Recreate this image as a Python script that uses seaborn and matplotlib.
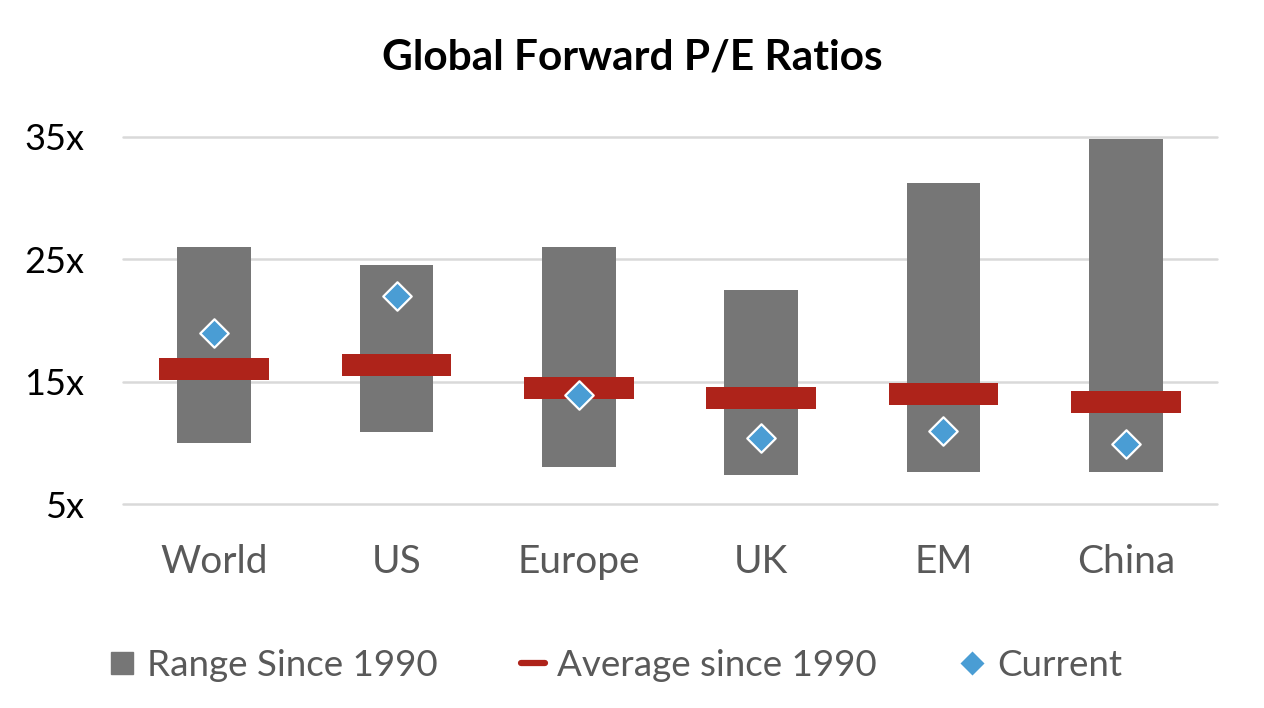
import matplotlib
matplotlib.use("Agg")
import matplotlib.pyplot as plt
from matplotlib.lines import Line2D
import pandas as pd
import seaborn as sb

# Chart data
REGIONS = ["World", "US", "Europe", "UK", "EM", "China"]
RANGE_LOW = [10.0, 10.9, 8.0, 7.4, 7.6, 7.6]
RANGE_HIGH = [26.0, 24.5, 26.0, 22.5, 31.2, 34.8]
AVERAGE = [16.0, 16.4, 14.5, 13.7, 14.0, 13.3]
CURRENT = [19.0, 22.0, 13.9, 10.4, 11.0, 9.9]
Y_TICKS = [5, 15, 25, 35]
Y_TICK_LABELS = ["5x", "15x", "25x", "35x"]
SERIES_NAMES = ["Range Since 1990", "Average since 1990", "Current"]
TITLE = "Global Forward P/E Ratios"

GRAY = "#767676"
RED = "#AE231A"
BLUE = "#4A9DD4"
TEXT_GRAY = "#595959"
AVG_THICKNESS = 1.8


def build_frame():
    df = pd.DataFrame({"Region": REGIONS, "low": RANGE_LOW, "high": RANGE_HIGH,
                       "avg": AVERAGE, "current": CURRENT})
    df["span"] = df["high"] - df["low"]
    df["avg_bottom"] = df["avg"] - AVG_THICKNESS / 2
    df["avg_height"] = AVG_THICKNESS
    return df


def plot_ratios(df):
    sb.set_theme(style="white")
    matplotlib.rcParams['font.family'] = ['Lato', 'DejaVu Sans']

    fig = plt.figure(figsize=(12.64, 7.08), dpi=100)
    ax = fig.add_axes([123 / 1264, 1 - 504 / 708, (1217 - 123) / 1264, (504 - 137) / 708])

    # Floating range bars
    sb.barplot(data=df, x="Region", y="span", bottom=df["low"].to_numpy(), color=GRAY,
               saturation=1, width=0.405, errorbar=None, ax=ax, zorder=2, linewidth=0)
    # Average markers as thin wide bars
    sb.barplot(data=df, x="Region", y="avg_height", bottom=df["avg_bottom"].to_numpy(), color=RED,
               saturation=1, width=0.60, errorbar=None, ax=ax, zorder=3, linewidth=0)
    # Current value diamonds
    sb.scatterplot(data=df, x="Region", y="current", marker="D", s=210, color=BLUE,
                   edgecolor="white", linewidth=1.6, ax=ax, zorder=4, legend=False)

    ax.set_xlim(-0.5, len(REGIONS) - 0.5)
    ax.set_ylim(5, 35)
    ax.set_yticks(Y_TICKS)
    ax.set_yticklabels(Y_TICK_LABELS)
    ax.set_xlabel("")
    ax.set_ylabel("")
    ax.set_axisbelow(True)
    ax.yaxis.grid(True, color="#D9D9D9", linewidth=1.8)
    for gl in ax.get_ygridlines():
        gl.set_clip_on(False)
    for s in ax.spines.values():
        s.set_visible(False)
    ax.tick_params(axis="y", length=0, pad=28, labelsize=26, labelcolor="black")
    ax.tick_params(axis="x", length=0, pad=29, labelsize=28, labelcolor=TEXT_GRAY)

    fig.text(0.5, 1 - 57 / 708, TITLE, ha="center", va="center",
             fontsize=30.5, fontweight="bold", color="black")

    handles = [
        Line2D([], [], linestyle="none", marker="s", markersize=16, color=GRAY),
        Line2D([], [], color=RED, linewidth=4.5),
        Line2D([], [], linestyle="none", marker="D", markersize=13, color=BLUE,
               markeredgecolor="white"),
    ]
    fig.legend(handles, SERIES_NAMES, loc="center", bbox_to_anchor=(616 / 1264, 1 - 665 / 708),
               ncol=3, frameon=False, fontsize=26.5, labelcolor=TEXT_GRAY,
               handlelength=0.65, handletextpad=0.35, columnspacing=2.25)

    fig.savefig("out.png", dpi=100)


if __name__ == '__main__':
    plot_ratios(build_frame())
